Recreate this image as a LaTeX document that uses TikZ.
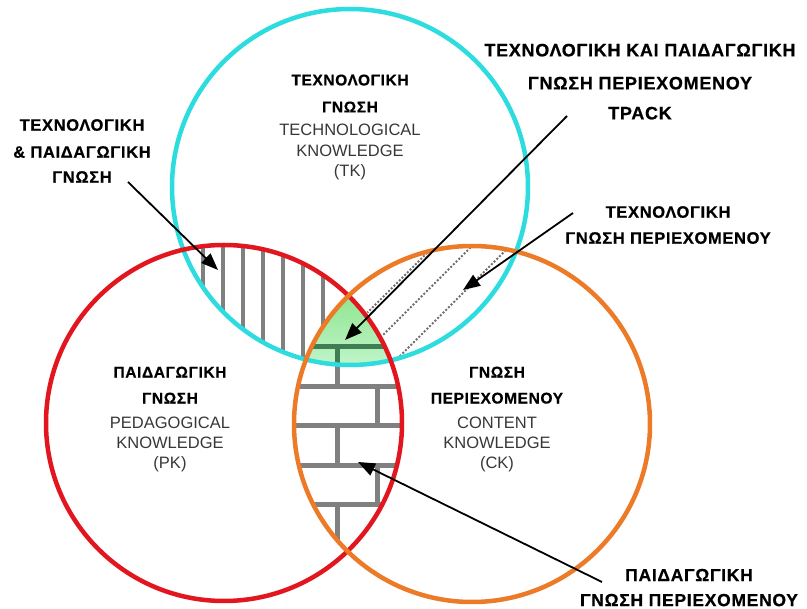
\documentclass[tikz,border=0pt]{standalone}
\usepackage{fontspec}
\setmainfont{Liberation Sans}
\newfontfamily\grk{Liberation Sans}[LetterSpace=4,BoldFeatures={FakeBold=0.6}]
\usetikzlibrary{arrows.meta}
\definecolor{tkcol}{RGB}{44,220,222}
\definecolor{pkcol}{RGB}{226,22,30}
\definecolor{ckcol}{RGB}{236,122,38}
\definecolor{hatchgray}{RGB}{128,128,128}
\definecolor{dotgray}{RGB}{110,110,110}
\definecolor{gtop}{RGB}{140,228,140}
\definecolor{gbot}{RGB}{196,246,206}
\definecolor{gdark}{RGB}{62,126,82}
\definecolor{entext}{RGB}{55,55,55}
\newcommand{\gbold}[1]{{\grk\bfseries\fontsize{15.5}{21}\selectfont #1}}
\newcommand{\engl}[1]{{\color{entext}#1}}
\begin{document}
\begin{tikzpicture}[x=1pt,y=-1pt,
  ring/.style={line width=4.5pt},
  vhatch/.style={draw=hatchgray, line width=3.5pt},
  brickline/.style={line width=5pt, line cap=rect},
  dotline/.style={draw=dotgray, line width=2.8pt, line cap=round, dash pattern=on 0pt off 3.8pt},
  pointer/.style={draw=black, line width=1.8pt, -{Triangle[length=17pt,width=13pt]}},
  lbl/.style={inner sep=0pt, align=center, text=black},
  center lbl/.style={lbl, anchor=north, font=\fontsize{16.5}{21}\selectfont},
  side lbl/.style={lbl, anchor=north, font=\grk\bfseries\fontsize{#1}{26}\selectfont}
]
\useasboundingbox (0,0) rectangle (807,609);
\fill[white] (0,0) rectangle (807,609);

\coordinate (ctk) at (350,187);
\coordinate (cpk) at (224,423);
\coordinate (cck) at (472,424);

% TPK : vertical hatching (TK and PK, not CK)
\begin{scope}[even odd rule]
  \clip (ctk) circle[radius=178pt];
  \clip (cpk) circle[radius=178pt];
  \clip (-10,-10) rectangle (820,620) (cck) circle[radius=178pt];
  \foreach \x in {203,223,243,263,283,303,323}
    \draw[vhatch] (\x,180) -- (\x,400);
\end{scope}

% TCK : dotted diagonal lines (TK and CK, not PK)
\begin{scope}[even odd rule]
  \clip (ctk) circle[radius=176pt];
  \clip (cck) circle[radius=176pt];
  \clip (-10,-10) rectangle (820,620) (cpk) circle[radius=181pt];
  \foreach \s in {680,718,756}
    \draw[dotline] (\s-420,420) -- (\s-230,230);
\end{scope}

% PCK : brick pattern (PK and CK)
\begin{scope}[even odd rule]
  \clip (cpk) circle[radius=178pt];
  \clip (cck) circle[radius=178pt];
  \clip (-10,-10) rectangle (820,620) (ctk) circle[radius=178pt];
  \draw[brickline, draw=hatchgray]
    (280,347) -- (410,347) (280,386.5) -- (410,386.5) (280,426) -- (410,426)
    (280,465.5) -- (410,465.5) (280,505) -- (410,505)
    (337,347) -- (337,386.5) (377,386.5) -- (377,426) (337,426) -- (337,465.5)
    (377,465.5) -- (377,505) (337,505) -- (337,570);
\end{scope}

% TPACK : green centre
\begin{scope}
  \clip (ctk) circle[radius=178pt];
  \clip (cpk) circle[radius=178pt];
  \clip (cck) circle[radius=178pt];
  \shade[top color=gtop, bottom color=gbot] (280,290) rectangle (420,370);
  \draw[brickline, draw=gdark]
    (280,347) -- (410,347) (337,347) -- (337,386.5);
\end{scope}

% circles
\draw[ring, draw=tkcol] (ctk) circle[radius=178pt];
\draw[ring, draw=pkcol] (cpk) circle[radius=178pt];
\draw[ring, draw=ckcol] (cck) circle[radius=178pt];

% labels in the circles
\node[center lbl] (tk) at (350,74.4)
  {\gbold{ΤΕΧΝΟΛΟΓΙΚΗ}\\[6pt]\gbold{ΓΝΩΣΗ}\\[2pt]\engl{TECHNOLOGICAL}\\\engl{KNOWLEDGE}\\[-1pt]\engl{(TK)}};
\node[center lbl] (pk) at (170,366.5)
  {\gbold{ΠΑΙΔΑΓΩΓΙΚΗ}\\[5pt]\gbold{ΓΝΩΣΗ}\\[4pt]\engl{PEDAGOGICAL}\\[-1pt]\engl{KNOWLEDGE}\\[-1pt]\engl{(PK)}};
\node[center lbl] (ck) at (497,366.5)
  {\gbold{ΓΝΩΣΗ}\\[5pt]\gbold{ΠΕΡΙΕΧΟΜΕΝΟΥ}\\[4pt]\engl{CONTENT}\\[-1pt]\engl{KNOWLEDGE}\\[-1pt]\engl{(CK)}};

% outside labels
\node[side lbl=16.5] (tpk) at (82,119) {ΤΕΧΝΟΛΟΓΙΚΗ\\[1pt]\&\ ΠΑΙΔΑΓΩΓΙΚΗ\\[-1pt]ΓΝΩΣΗ};
\node[side lbl=18, font=\grk\bfseries\fontsize{18}{31.5}\selectfont] (tpack) at (640,43.6)
  {ΤΕΧΝΟΛΟΓΙΚΗ ΚΑΙ ΠΑΙΔΑΓΩΓΙΚΗ\\[1.5pt]ΓΝΩΣΗ ΠΕΡΙΕΧΟΜΕΝΟΥ\\[-1.5pt]TPACK};
\node[side lbl=16.5] (tck) at (668,206) {ΤΕΧΝΟΛΟΓΙΚΗ\\ΓΝΩΣΗ ΠΕΡΙΕΧΟΜΕΝΟΥ};
\node[side lbl=17.5, font=\grk\bfseries\fontsize{17.5}{25}\selectfont] (pck) at (689,568.7)
  {ΠΑΙΔΑΓΩΓΙΚΗ\\ΓΝΩΣΗ ΠΕΡΙΕΧΟΜΕΝΟΥ};

% pointers
\coordinate (tpkfrom) at (128,182);
\coordinate (tpkto) at (218,270);
\coordinate (tpackfrom) at (567,116);
\coordinate (tpackto) at (345,340);
\coordinate (tckfrom) at (573,213);
\coordinate (tckto) at (463,290);
\coordinate (pckfrom) at (602,582);
\coordinate (pckto) at (358,462);
\draw[pointer] (tpkfrom) -- (tpkto);
\draw[pointer] (tpackfrom) -- (tpackto);
\draw[pointer] (tckfrom) -- (tckto);
\draw[pointer] (pckfrom) -- (pckto);
\end{tikzpicture}
\end{document}
